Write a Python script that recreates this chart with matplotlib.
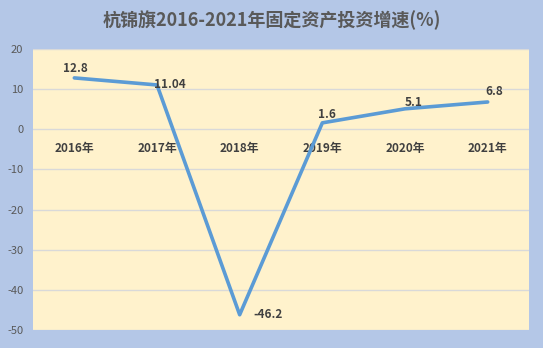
import matplotlib.pyplot as plt
import numpy as np

plt.rcParams['font.family'] = ['Noto Sans CJK SC', 'DejaVu Sans']
plt.rcParams['axes.unicode_minus'] = False

years = ["2016年", "2017年", "2018年", "2019年", "2020年", "2021年"]
growth = [12.8, 11.04, -46.2, 1.6, 5.1, 6.8]
value_labels = ["12.8", "11.04", "-46.2", "1.6", "5.1", "6.8"]
# label offsets in points (dx, dy) and alignment
label_pos = [(1, 2, "center", "bottom"), (-2, 0, "left", "center"),
             (10, 0, "left", "center"), (3, 1, "center", "bottom"),
             (6, 0, "center", "bottom"), (5, 3, "center", "bottom")]

fig = plt.figure(figsize=(5.43, 3.48), dpi=100, facecolor="#B4C7E7")
ax = fig.add_axes([33 / 543, 1 - 330 / 348, 496 / 543, 281 / 348])
ax.set_facecolor("#FFF2CC")

x = np.arange(len(years)) + 0.5
ax.plot(x, growth, color="#5B9BD5", linewidth=2.6, solid_capstyle="round", zorder=3)

for xi, yi, txt, (dx, dy, ha, va) in zip(x, growth, value_labels, label_pos):
    ax.annotate(txt, (xi, yi), xytext=(dx, dy), textcoords="offset points",
                ha=ha, va=va, fontsize=8.5, fontweight="bold", color="#404040", zorder=4)

ax.set_xlim(0, 6)
ax.set_ylim(-50, 20)
ax.spines["bottom"].set_position(("data", 0))
for s in ax.spines.values():
    s.set_visible(False)

ax.set_yticks(np.arange(-50, 21, 10))
ax.yaxis.grid(True, color="#D9D9D9", linewidth=1)
ax.set_axisbelow(True)
ax.tick_params(axis="y", length=0, labelsize=8, labelcolor="#595959", pad=7)

ax.set_xticks(x)
ax.set_xticklabels(years, fontsize=8.5, fontweight="bold", color="#404040")
ax.tick_params(axis="x", length=0, pad=9)

fig.text(0.5, 1 - 20 / 348, "杭锦旗2016-2021年固定资产投资增速(%)", ha="center", va="center",
         fontsize=13, fontweight="bold", color="#595959")

fig.savefig("out.png", dpi=100, facecolor=fig.get_facecolor())
